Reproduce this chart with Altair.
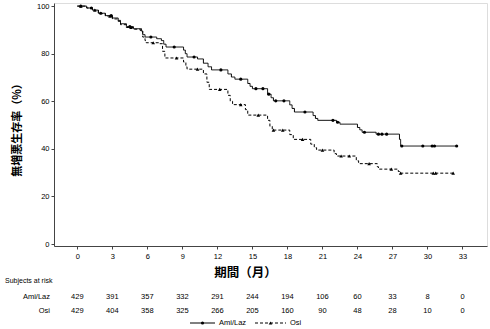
import altair as alt
import pandas as pd
import numpy as np

# ---- data ----
al_time = [0, 0.8, 1.3, 1.8, 2.4, 3.0, 3.5, 3.7, 4.2, 4.8, 5.5, 5.6, 5.8, 6.8, 7.2, 7.4, 7.6,
           9.1, 9.25, 9.4, 10.3, 10.8, 11.2, 11.5, 12.9, 13.2, 13.5, 14.6, 14.8, 15.0,
           16.3, 16.6, 16.8, 18.2, 18.4, 18.6, 20.2, 20.4, 20.6, 22.2, 22.5, 24.0, 24.2, 24.4,
           25.6, 27.6, 27.7, 32.5]
al_surv = [100, 99.2, 98.3, 97.0, 96.0, 95.0, 94.0, 92.6, 91.4, 90.5, 89.5, 88.0, 87.0, 86.3, 85.5, 84.0, 82.8,
           81.5, 80.0, 78.6, 77.8, 76.0, 74.5, 73.2, 71.5, 70.2, 69.3, 67.5, 66.3, 65.3,
           63.0, 61.5, 60.2, 58.5, 57.0, 55.5, 54.0, 52.8, 52.0, 51.2, 50.4, 49.0, 48.0, 47.0,
           46.2, 44.0, 41.2, 41.2]
al_cens = [0.3, 1.2, 2.0, 2.9, 4.5, 6.3, 8.3, 10.0, 12.3, 14.0, 15.3, 15.9, 16.4, 17.0, 17.7,
           19.5, 21.9, 22.3, 24.6, 25.8, 26.1, 26.5, 27.8, 29.6, 30.4, 30.6, 32.5]

osi_time = [0, 0.8, 1.3, 1.8, 2.4, 3.0, 3.5, 3.7, 4.2, 4.8, 5.4, 5.6, 5.8, 5.9, 7.0, 7.3, 7.5,
            9.1, 9.3, 9.4, 10.8, 11.1, 11.3, 12.9, 13.1, 13.3, 14.4, 14.6, 16.3, 16.5, 16.7,
            18.2, 18.5, 20.0, 20.3, 20.5, 22.0, 22.2, 23.9, 24.1, 25.7, 25.8, 27.5, 27.6, 32.2]
osi_surv = [100, 99.2, 98.3, 96.8, 95.8, 94.6, 93.6, 92.2, 91.0, 90.3, 89.5, 87.0, 85.5, 84.6, 84.2, 81.0, 78.2,
            76.5, 74.5, 73.5, 71.5, 68.0, 65.0, 62.5, 60.0, 58.6, 56.5, 54.2, 52.0, 49.5, 47.9,
            46.0, 44.0, 42.0, 40.5, 39.5, 38.0, 37.0, 35.0, 33.8, 32.5, 31.5, 30.5, 29.8, 29.8]
osi_cens = [0.3, 1.5, 2.8, 4.6, 6.5, 8.5, 10.3, 12.2, 14.0, 15.5, 16.8, 17.6, 19.3, 21.0,
            22.6, 23.3, 25.0, 26.9, 27.7, 30.5, 30.7, 32.2]

tick_months = [0, 3, 6, 9, 12, 15, 18, 21, 24, 27, 30, 33]
risk_al = [429, 391, 357, 332, 291, 244, 194, 106, 60, 33, 8, 0]
risk_osi = [429, 404, 358, 325, 266, 205, 160, 90, 48, 28, 10, 0]
y_ticks = [0, 20, 40, 60, 80, 100]

FONT = "Liberation Sans"
CJK = "Noto Sans CJK JP"


def step_at(times, survs, t):
    i = np.searchsorted(np.array(times), t, side="right") - 1
    return survs[max(i, 0)]


curves = pd.DataFrame({
    "t": al_time + osi_time,
    "s": al_surv + osi_surv,
    "g": ["Ami/Laz"] * len(al_time) + ["Osi"] * len(osi_time),
})
cens_al = pd.DataFrame({"t": al_cens, "s": [step_at(al_time, al_surv, t) for t in al_cens]})
cens_osi = pd.DataFrame({"t": osi_cens, "s": [step_at(osi_time, osi_surv, t) for t in osi_cens]})

xs = alt.Scale(domain=[-2, 35.1], nice=False, zero=False)
ys = alt.Scale(domain=[-0.8, 101.3], nice=False, zero=False)

x_axis = alt.Axis(values=tick_months, title="期間（月）", grid=False, tickSize=3,
                  labelOverlap=False, labelFlush=False,
                  labelFont=FONT, labelFontSize=7.5, labelPadding=3, labelColor="black",
                  domainColor="#444", tickColor="#444",
                  titleFont=CJK, titleFontSize=12.5, titleFontWeight="bold",
                  titleX=191, titleY=26, titleBaseline="middle", titleAlign="center",
                  titleColor="black")
y_axis = alt.Axis(values=y_ticks, title="無増悪生存率（%）", grid=False, tickSize=3,
                  labelOverlap=False, labelFlush=False,
                  labelFont=FONT, labelFontSize=7.5, labelPadding=2, labelColor="black",
                  domainColor="#444", tickColor="#444",
                  titleFont=CJK, titleFontSize=11, titleFontWeight="bold",
                  titleAngle=270, titleX=-37, titleY=124, titleBaseline="middle",
                  titleAlign="center", titleColor="black")


def X():
    return alt.X("t:Q", scale=xs, axis=x_axis)


def Y():
    return alt.Y("s:Q", scale=ys, axis=y_axis)


lines = alt.Chart(curves).mark_line(interpolate="step-after", strokeWidth=1, color="black").encode(
    x=X(), y=Y(),
    strokeDash=alt.StrokeDash("g:N", scale=alt.Scale(domain=["Ami/Laz", "Osi"],
                                                     range=[[1, 0], [3, 2]]), legend=None),
    detail="g:N",
)

pts_al = alt.Chart(cens_al).mark_point(shape="circle", size=10, filled=True, color="black", opacity=1).encode(
    x=X(), y=Y())
pts_osi = alt.Chart(cens_osi).mark_point(shape="triangle-up", size=13, filled=True, color="black", opacity=1).encode(
    x=X(), y=Y())

risk = pd.DataFrame({"t": tick_months, "a": risk_al, "o": risk_osi})
txt_al = alt.Chart(risk).mark_text(font=FONT, fontSize=7.5, color="black", baseline="middle").encode(
    x=X(), y=alt.value(294), text="a:Q")
txt_osi = alt.Chart(risk).mark_text(font=FONT, fontSize=7.5, color="black", baseline="middle").encode(
    x=X(), y=alt.value(308), text="o:Q")

labels = pd.DataFrame({"lab": ["Subjects at risk", "Ami/Laz", "Osi"],
                       "y": [278, 294, 308]})
lab1 = alt.Chart(labels.iloc[[0]]).mark_text(font=FONT, fontSize=7, color="black", align="left",
                                             baseline="middle").encode(
    x=alt.value(-49), y=alt.value(278), text="lab:N")
lab2 = alt.Chart(labels.iloc[1:]).mark_text(font=FONT, fontSize=7.5, color="black", align="right",
                                            baseline="middle").encode(
    x=alt.value(-4), y=alt.Y("y:Q", scale=None), text="lab:N")

one = pd.DataFrame({"a": [1]})
leg_line1 = alt.Chart(one).mark_rule(color="black", strokeWidth=1).encode(
    x=alt.value(136), x2=alt.value(161), y=alt.value(320))
leg_pt1 = alt.Chart(one).mark_point(shape="circle", size=10, filled=True, color="black", opacity=1).encode(
    x=alt.value(148.5), y=alt.value(320))
leg_txt1 = alt.Chart(pd.DataFrame({"l": ["Ami/Laz"]})).mark_text(
    font=FONT, fontSize=7.5, color="black", align="left", baseline="middle").encode(
    x=alt.value(165), y=alt.value(320), text="l:N")
leg_line2 = alt.Chart(one).mark_rule(color="black", strokeWidth=1, strokeDash=[3, 2]).encode(
    x=alt.value(201), x2=alt.value(232), y=alt.value(320))
leg_pt2 = alt.Chart(one).mark_point(shape="triangle-up", size=13, filled=True, color="black", opacity=1).encode(
    x=alt.value(216.5), y=alt.value(320))
leg_txt2 = alt.Chart(pd.DataFrame({"l": ["Osi"]})).mark_text(
    font=FONT, fontSize=7.5, color="black", align="left", baseline="middle").encode(
    x=alt.value(236), y=alt.value(320), text="l:N")

chart = alt.layer(
    lines, pts_al, pts_osi, txt_al, txt_osi, lab1, lab2,
    leg_line1, leg_pt1, leg_txt1, leg_line2, leg_pt2, leg_txt2,
).properties(
    width=433, height=243,
    padding={"left": 54, "top": 3, "right": 3, "bottom": 83},
    autosize=alt.AutoSizeParams(type="none"),
).configure_view(stroke="#444", strokeWidth=1).configure(background="white")

chart.save("out.html", embed_options={"renderer": "svg", "actions": False})
